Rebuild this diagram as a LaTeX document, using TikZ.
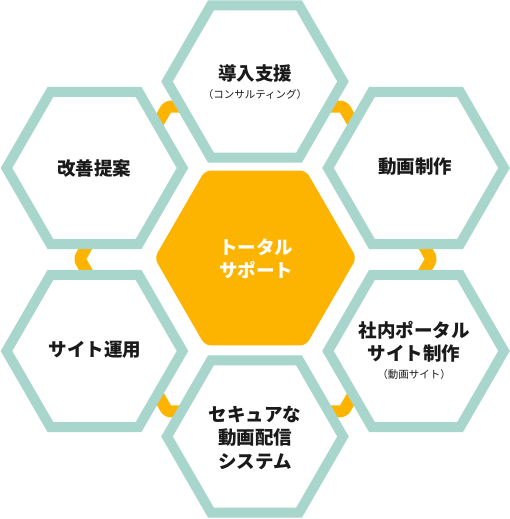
\documentclass[tikz,border=0pt]{standalone}
\usepackage{fontspec}
\setmainfont{Noto Sans CJK JP}
\definecolor{hexteal}{HTML}{A8D6CC}
\definecolor{hexorange}{HTML}{FDB400}
\definecolor{hextext}{HTML}{1A1A1A}
\tikzset{
  pics/hexa/.style={code={\path[pic actions] (0:#1) -- (60:#1) -- (120:#1) -- (180:#1) -- (240:#1) -- (300:#1) -- cycle;}},
  outerhex/.style={draw=hexteal, fill=white, line width=10},
  ringhex/.style={draw=hexorange, line width=12, line join=round, rounded corners=3},
  corehex/.style={fill=hexorange, rounded corners=6},
  lbl/.style={text=hextext, align=center, inner sep=0, font=\bfseries\fontsize{18.5}{23.5}\selectfont},
  sub/.style={text=hextext, align=center, inner sep=0, font=\fontsize{10.5}{12}\selectfont},
  corelbl/.style={text=white, align=center, inner sep=0, font=\bfseries\fontsize{18.5}{23}\selectfont}
}
\begin{document}
\begin{tikzpicture}[x=1pt,y=-1pt]
\useasboundingbox (0,0) rectangle (510,519);
% orange ring behind
\pic[ringhex] at (255.5,259) {hexa=176};
% outer hexagons
\pic[outerhex] at (255,81.5) {hexa=88};
\pic[outerhex] at (94.5,168) {hexa=88};
\pic[outerhex] at (416,168) {hexa=88};
\pic[outerhex] at (94.5,351) {hexa=88};
\pic[outerhex] at (416,351) {hexa=88};
\pic[outerhex] at (255,436.5) {hexa=88};
% core
\pic[corehex] at (255.5,258) {hexa=101};
% labels
\node[lbl] (top) at (255,73) {導入支援};
\node[sub] (topsub) at (255,95) {（コンサルティング）};
\node[lbl] (tl) at (94,168) {改善提案};
\node[lbl] (tr) at (415,167) {動画制作};
\node[lbl] (bl) at (95,350) {サイト運用};
\node[lbl] (br) at (414,342) {社内ポータル\\サイト制作};
\node[sub] (brsub) at (414,375) {（動画サイト）};
\node[lbl] (bot) at (255,438) {セキュアな\\動画配信\\システム};
\node[corelbl] (core) at (256,259) {トータル\\サポート};
\end{tikzpicture}
\end{document}
